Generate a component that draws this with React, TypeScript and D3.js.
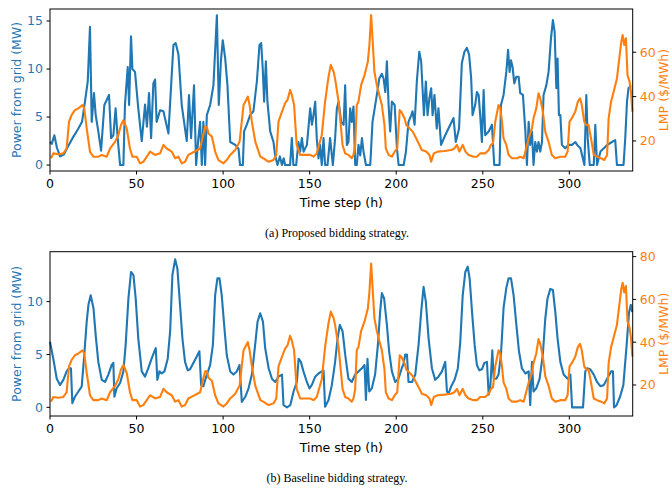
import React from 'react'
import * as d3 from 'd3'

// hourly series, as [hour, value] pairs
const proposedPower: [number, number][] = [
  [0,2.4],[1,2.2],[2.5,3.1],[4,1.8],[5.8,0.9],[8,1.1],[10,1.8],[13,2.8],[16.4,3.8],[18.5,4.5],[20.2,6.6],[21.8,8.7],[23.1,14.4],[24.1,4.5],[25.4,7.5],[26.4,5.2],[27.9,3.5],[29.5,1.5],[31.4,6.25],[34.1,7.3],[35.3,2.8],[36.6,3.1],[37.9,5.9],[39.1,2.8],[40.5,0],[42.4,0],[43.3,6.25],[44.9,10.2],[45.7,6.25],[46.8,13.4],[47.6,10],[49.1,9.7],[51,5.9],[53,2.5],[54.9,6.3],[56,4],[57.2,7.5],[58.4,2.8],[59.7,8.5],[60.7,8.9],[61.6,4.5],[63.6,5.7],[65.5,5.6],[68.4,3.3],[71.3,12.5],[72.6,12.7],[74.2,11.5],[76.1,6.25],[79,2.5],[80.3,7.3],[81.5,2.8],[83.2,8.3],[84.4,0],[85.7,2.8],[86.7,4.5],[87.7,0],[88.6,4.5],[89.6,0],[90.6,5.2],[92.5,6.25],[94.4,8.3],[96.4,15.6],[97.5,6.25],[98.7,10.8],[99.8,13],[101.2,11.1],[102.5,8.3],[104.1,2.4],[107,2.1],[108.9,1.7],[109.8,0],[111.4,0],[112.1,3.5],[113.7,4.2],[115.6,5.2],[117.5,5.6],[119.5,8.7],[121,12.5],[122,12.7],[122.9,10],[123.7,6.6],[124.7,10.8],[125.6,6.6],[127.2,3.5],[129.1,2.4],[130,1.05],[131.4,0],[132.8,0.9],[134,0],[135,0.7],[135.8,0],[138.7,0],[139.7,2.8],[140.6,0],[142.2,0],[143.5,2.4],[144.5,1.4],[145.5,2.8],[146.5,1.4],[148.4,2.1],[150.3,5.9],[151.3,4.2],[152.2,5.2],[153.2,6.6],[154.1,2.8],[155.1,0.7],[156,2.1],[157,0],[158,2.8],[158.9,0],[160.3,0],[161.8,2.8],[163.4,0],[164.7,2.8],[165.7,5.9],[166.7,6.6],[168.2,4.5],[169.6,4.2],[170.5,8.3],[171.5,2.1],[172.4,2.4],[173.4,5.9],[174.3,4.5],[175.3,6.1],[176.3,0],[177.2,0],[178.2,2.1],[179.2,1.0],[180.2,2.8],[181.1,1.4],[182.5,0],[185,0],[186.3,4.5],[188.8,7.3],[190.2,9],[191.7,9.5],[192.7,9],[193.7,7.6],[194.6,10.8],[195.6,6.25],[196.5,3.5],[197.5,6.6],[199.1,6.25],[200.4,1.74],[201.4,0],[204.3,0],[205.6,1.4],[207.1,4.5],[208.7,5.2],[209.4,5.6],[210.6,4.2],[211.9,8.7],[213.3,11.8],[214.4,10.8],[215.2,8],[216,5.2],[217.1,8.7],[218.1,5.2],[219.1,6.9],[220.2,8],[221,5.2],[222.1,7.3],[223.4,3.8],[224.4,5.9],[225.9,2.1],[228.3,3.1],[233.1,4.9],[234.4,2.4],[236.3,3.8],[237.9,10.6],[239.4,11.8],[240.8,12.2],[242.1,11.5],[243.3,9],[244.1,5.2],[245.6,6.25],[246.6,7.6],[247.6,7.3],[248.5,5.2],[249.5,2.4],[250.5,7.8],[251.4,3.1],[253.4,3.5],[255.3,4.2],[256.6,0],[259.7,0],[260.5,6.25],[262,7.3],[263.6,9.7],[264.6,12],[265.5,9.7],[266.3,10.9],[267.2,10.2],[268.2,8.5],[269.4,9.2],[270.7,9.2],[271.6,7.5],[273.2,7.3],[274.6,3.5],[275.5,0],[276.5,4.5],[277.4,2.1],[278.4,3.5],[279.3,0],[280.3,2.4],[281.3,1.4],[282.2,2.4],[283.2,1.4],[284.2,2.4],[285.1,7.3],[286.7,8.3],[288,9.7],[289.4,13.2],[290.5,15.1],[291.5,13.9],[292.5,8],[293.2,11.1],[294,5.2],[294.8,5.2],[295.7,2.1],[297.6,1.74],[299.5,2.1],[301.5,2.1],[303.5,2.4],[304.5,2.1],[306.4,1.74],[308.7,0],[309.8,7.3],[310.6,2.8],[311.8,0],[314.1,0],[315,4.2],[316,0],[318,1.4],[319.9,1.74],[322,2.1],[324.6,2.4],[326.5,2.6],[327.5,0],[331.3,0],[332.3,2.8],[333.3,6.6],[334.2,8],[335.6,8.3],
]

const baselinePower: [number, number][] = [
  [0,6.2],[1.9,4.6],[3.9,2.7],[5.8,2.1],[7.7,2.6],[9.6,3.4],[11,3.7],[12.1,3.7],[12.9,0.4],[14.4,1],[16.4,1.5],[18.3,1.95],[19.8,4.95],[21.2,8.1],[22.2,9.7],[23.5,10.6],[25.1,9.4],[26.4,6.8],[27.9,4.3],[29.9,2.6],[31.8,2.4],[33.7,3.1],[35.6,4],[36.6,4.2],[37.2,1],[38.5,1.8],[40.5,2.3],[42.4,3.4],[43.7,5.9],[45.3,10.3],[46.8,12.8],[48.2,12.5],[49.5,10.3],[51,6.5],[53,3.4],[54.9,2.9],[56.8,3.7],[58.7,4.6],[60.3,5.3],[61.1,5.6],[62,2.6],[63.2,3.4],[64.5,3.2],[66.1,3.4],[68,4.6],[69.4,7.2],[70.7,12.5],[72.3,14],[73.6,13.1],[75.1,9.7],[76.5,6.5],[78,4.3],[79.6,3.5],[80.9,3.6],[83.8,4.5],[86.3,5.3],[87.3,2.1],[88.6,2],[90.6,3.1],[92.5,4],[94.1,5.9],[95.4,10.6],[96.7,12.2],[97.9,12.2],[99.2,10.6],[100.6,7.8],[102.1,4.95],[104.1,3.4],[106,3.1],[107.9,3.4],[109.5,4],[110.8,0.5],[112.8,1],[114.7,1.8],[116.6,3.1],[118.5,5.9],[119.9,8.1],[121.4,8.9],[123,8.1],[124.3,5.6],[126.3,3.7],[128.2,2.7],[130.1,2.4],[132,2.9],[134,3.1],[134.9,0.2],[136.9,0],[138.8,0.2],[140.7,1.5],[142.6,2.4],[143.6,4.6],[144.9,4.3],[146.4,3.4],[148.4,2.4],[149.9,1.8],[151.2,2.1],[153.2,2.9],[155.1,3.2],[157,3.4],[158,3.5],[158.9,0.06],[160.9,0.7],[162.8,2.1],[164.7,4.3],[166.1,6.5],[167.4,7.8],[169,7.2],[170.5,5],[172.4,2.7],[174.3,2.4],[176.3,3.1],[178.2,3.4],[180.2,3.7],[181.7,4],[182.5,0.7],[183.4,4.6],[184.4,1.5],[185.9,1.8],[187.8,3.1],[189.4,5.9],[190.7,9],[191.7,10.8],[193,10.3],[194.6,7.8],[195.9,5.3],[197.5,3.4],[199.4,2.4],[201.3,2.7],[203.2,3.7],[204.2,4.1],[205.2,5],[206.2,5],[207.1,2.4],[209.1,2.4],[211,3.1],[212.9,5.9],[214.4,9],[215.8,11.4],[217.1,10],[218.7,6.5],[220.6,3.7],[222.5,2.6],[224.4,2.9],[226.4,3.4],[228.3,4.3],[229.3,1.5],[230.2,1.3],[231.8,2],[233.7,2.6],[235.6,3.7],[237,6.2],[238.4,10.6],[239.9,12.8],[241.3,13.3],[242.4,12.2],[243.8,9],[245.3,5.9],[246.6,4],[248,3.5],[249.5,3.6],[250.9,4.2],[252.4,4.3],[253.4,1.2],[254.3,1.8],[255.5,5.4],[256.3,2.7],[257.8,2.7],[259.1,3.1],[260.5,5],[262,9.4],[263.6,11.3],[264.9,12.2],[266.3,12.2],[267.8,10.6],[269.4,7.8],[270.9,5.3],[272.6,3.7],[274.6,3.2],[276.5,3.4],[277.4,0.2],[278.4,4.3],[279.3,1.5],[280.9,1.8],[282.8,2.7],[284.7,5],[286.1,8.4],[287.4,10.3],[289,11.2],[290.5,11.1],[291.9,9],[293.2,6.5],[294.8,4.3],[296.7,3.1],[299,2.7],[300.6,3.1],[301.6,0],[307.9,0],[309.2,3.4],[310.2,3.7],[312.1,3.6],[314.1,3.1],[316,2.4],[317.9,2],[319.9,2.1],[321.8,2.7],[324.1,3.4],[325.2,3.4],[325.8,0],[327.3,0.2],[329.3,1],[331.2,2.1],[333.1,5.9],[334.5,9],[335.5,9.7],[336.3,9],
]

const lmp: [number, number][] = [
  [0.6,12.2],[1.9,14.4],[4.8,14],[7.7,14.4],[9.6,16.6],[11,28.7],[12.5,31.7],[14.4,33.9],[16.4,34.7],[18.7,36.2],[19.8,34.7],[21.2,25.7],[23.1,15.2],[25,12.9],[27.9,12.9],[29.9,13.7],[32.8,12.9],[34.7,16.6],[37.6,19.6],[39.5,22.7],[41,27.2],[42.4,29.4],[44.3,25.7],[46.2,16.6],[47.6,12.9],[50.1,12.9],[52,9.9],[53.9,10.6],[55.9,12.9],[57.8,15.2],[60.7,13.7],[63.6,14.4],[65.5,18.2],[67.4,16.6],[70.3,15.2],[72.3,12.2],[74.2,12.9],[76.1,9.9],[78,10.6],[79.9,13.7],[82.8,14.9],[86.7,16.6],[89.6,26.4],[90.6,26.4],[91.5,23.4],[93.5,22],[95.4,15.2],[97.3,11.4],[100.2,9.9],[102.1,11.4],[104.1,13.7],[107,15.9],[109.5,19.6],[111.8,36.2],[112.8,37.7],[114.3,40],[115.3,36.2],[116.6,28.7],[118.6,19.6],[121.5,12.9],[123.4,12.1],[126.3,10.6],[129.1,11.4],[130.7,13.7],[132,28.7],[134,33.2],[135.8,37],[137.2,38.5],[138.7,43],[139.7,40.7],[141,36.2],[142.5,18.2],[144.5,13.7],[147.4,13.7],[150.3,13.7],[152.2,12.9],[154.1,14.4],[157,22.7],[158.9,37.7],[160.9,49],[162.2,54.3],[163.8,51.3],[164.7,48],[166.7,37.7],[167.6,30],[169,18.2],[170.5,14.4],[172.4,13.7],[174.3,12.2],[175.3,13.7],[176.3,18.2],[177.2,36.2],[178.2,37.7],[179.7,45.2],[181.7,49.7],[183.6,55.7],[184.5,63.3],[185.5,76.8],[186.3,66.3],[187.4,51.2],[188.8,45.2],[190.2,40.7],[191.7,36.2],[193.2,27.2],[194,16.6],[195.6,13.7],[197.5,12.9],[199.1,15.2],[200.6,16.6],[202,33.9],[202.9,33.2],[204.8,30.2],[205.8,27.2],[207.7,25.7],[209.6,24.1],[211.5,21.2],[213.4,18.2],[214.8,15.9],[217.3,15.2],[219.2,13.7],[220.2,10.6],[221.7,14.4],[224,15.2],[227.9,15.5],[231.7,15.9],[233.6,16.6],[235.1,18.2],[236.5,15.2],[238.4,18.2],[240,15.2],[241.8,13.7],[244.7,12.9],[246.6,12.9],[248.5,14.4],[251.4,14.4],[253.4,15.9],[254.7,18.2],[255.9,18.9],[257.2,28.7],[259.1,36.2],[260.1,34.7],[261.1,28.7],[262,21.2],[263.6,18.2],[264.9,13.7],[266.9,12.2],[269.8,12.2],[271.6,12.9],[273.6,12.2],[274.6,15.2],[276.5,21.2],[278.4,25.7],[279.3,30.2],[280.9,34.7],[282.2,41.5],[283.2,39.2],[284.7,33.2],[286.1,24.1],[288,19.6],[289.9,13.7],[291.9,12.2],[294.8,12.9],[297.6,12.9],[299,15.2],[300.1,28.7],[301.4,30.2],[303.4,33.2],[304.9,37.7],[306.2,39.2],[307.2,36.2],[308.6,28.7],[309.8,27.2],[311.1,27.2],[312.5,21.2],[314.1,13.7],[316,12.9],[318.3,12.2],[320.2,11.4],[321.8,13.7],[322.7,30.2],[324.1,37.7],[325.6,42.2],[327.5,48.2],[329.1,58.8],[330,64.8],[330.8,67.8],[331.7,63.3],[332.7,66.3],[333.6,49.7],[334.8,46.7],[335.6,42.2],[336.4,33.2],
]

const xTicks = [0, 50, 100, 150, 200, 250, 300]
const topPowerTicks = [0, 5, 10, 15]
const topLmpTicks = [20, 40, 60]
const bottomPowerTicks = [0, 5, 10]
const bottomLmpTicks = [20, 40, 60, 80]

const BLUE = '#1f77b4'
const ORANGE = '#ff7f0e'
const FONT = 'DejaVu Sans, sans-serif'
const FS = 12.5

const x = d3.scaleLinear().domain([0, 336.6]).range([50, 632.7])

type PanelProps = {
  top: number
  bottom: number
  power: [number, number][]
  powerDomain: [number, number]
  lmpDomain: [number, number]
  powerTicks: number[]
  lmpTicks: number[]
  caption: string
}

const Panel = ({top, bottom, power, powerDomain, lmpDomain, powerTicks, lmpTicks, caption}: PanelProps) => {
  const yL = d3.scaleLinear().domain(powerDomain).range([bottom, top])
  const yR = d3.scaleLinear().domain(lmpDomain).range([bottom, top])
  const [x0, x1] = x.range()
  const lineL = d3.line<[number, number]>().x(d => x(d[0])).y(d => yL(d[1]))
  const lineR = d3.line<[number, number]>().x(d => x(d[0])).y(d => yR(d[1]))
  const midY = (top + bottom) / 2

  return <g fontFamily={FONT}>
    <path d={lineL(power) || ''} fill="none" stroke={BLUE} strokeWidth={2.1} strokeLinejoin="round" />
    <path d={lineR(lmp) || ''} fill="none" stroke={ORANGE} strokeWidth={2.1} strokeLinejoin="round" />
    <rect x={x0} y={top} width={x1 - x0} height={bottom - top} fill="none" stroke="#000" strokeWidth={1} />

    {xTicks.map(t => <g key={t} transform={`translate(${x(t)},${bottom})`}>
      <line y2={3.5} stroke="#000" />
      <text y={17} textAnchor="middle" fontSize={FS}>{t}</text>
    </g>)}
    <text x={(x0 + x1) / 2} y={bottom + 35.5} textAnchor="middle" fontSize={FS}>Time step (h)</text>

    {powerTicks.map(t => <g key={t} transform={`translate(${x0},${yL(t)})`}>
      <line x2={-3.5} stroke="#000" />
      <text x={-7} dy="0.35em" textAnchor="end" fontSize={FS} fill={BLUE}>{t}</text>
    </g>)}
    <text transform={`translate(21,${midY}) rotate(-90)`} textAnchor="middle" fontSize={FS} fill={BLUE}>Power from grid (MW)</text>

    {lmpTicks.map(t => <g key={t} transform={`translate(${x1},${yR(t)})`}>
      <line x2={3.5} stroke="#000" />
      <text x={7} dy="0.35em" textAnchor="start" fontSize={FS} fill={ORANGE}>{t}</text>
    </g>)}
    <text transform={`translate(668,${midY}) rotate(-90)`} textAnchor="middle" fontSize={FS} fill={ORANGE}>LMP ($/MWh)</text>

    <text x={337} y={bottom + 66} textAnchor="middle" fontSize={12} fontFamily="Liberation Serif, Times New Roman, serif">{caption}</text>
  </g>
}

export default function App() {
  return <svg width={672} height={488} style={{position: 'absolute', left: 0, top: 0, background: '#fff'}}>
    <Panel top={9} bottom={171} power={proposedPower} powerDomain={[-0.62, 16.25]} lmpDomain={[6.45, 79.5]}
      powerTicks={topPowerTicks} lmpTicks={topLmpTicks} caption="(a) Proposed bidding strategy." />
    <Panel top={251.7} bottom={416} power={baselinePower} powerDomain={[-0.82, 14.72]} lmpDomain={[5.5, 82.3]}
      powerTicks={bottomPowerTicks} lmpTicks={bottomLmpTicks} caption="(b) Baseline bidding strategy." />
  </svg>
}
